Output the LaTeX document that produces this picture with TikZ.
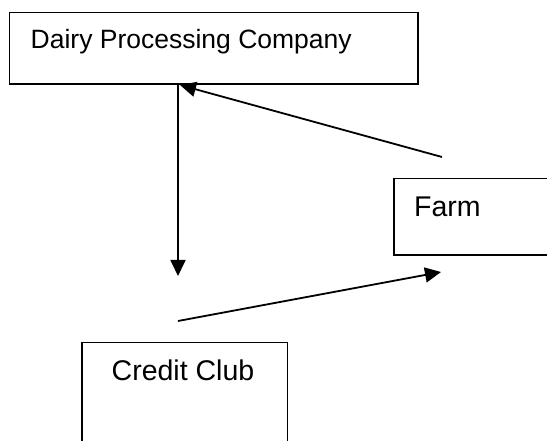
\documentclass[tikz,border=0pt]{standalone}
\usepackage{fontspec}
\setmainfont{Liberation Sans}
\usetikzlibrary{arrows.meta}
\begin{document}
\begin{tikzpicture}[x=1pt,y=-1pt,
  box/.style={draw=black,line width=1.8pt,fill=none},
  lbl/.style={anchor=base west,inner sep=0pt},
  conn/.style={line width=1.8pt,-{Triangle[length=16pt,width=15pt]}}]
\useasboundingbox (0,0) rectangle (547,441);
\clip (0,0) rectangle (547,441);
\fill[white] (0,0) rectangle (547,441);
% boxes
\draw[box] (9.5,12.5) rectangle (418,84);
\draw[box] (394,178.5) rectangle (560,255);
\draw[box] (82,342.5) rectangle (287.5,460);
% labels
\node[lbl,font=\fontsize{26.5}{32}\selectfont] (dairy) at (30.5,48.3) {Dairy Processing Company};
\node[lbl,font=\fontsize{28.5}{34}\selectfont] (farm) at (414,217) {Farm};
\node[lbl,font=\fontsize{28.5}{34}\selectfont] (credit) at (111.5,381) {Credit Club};
% connector ends
\coordinate (d1) at (178,84);
\coordinate (d2) at (178,276);
\coordinate (f1) at (442,157);
\coordinate (f2) at (180,85);
\coordinate (c1) at (178,321);
\coordinate (c2) at (441,272);
\draw[conn] (d1) -- (d2);
\draw[conn] (f1) -- (f2);
\draw[conn] (c1) -- (c2);
\end{tikzpicture}
\end{document}
